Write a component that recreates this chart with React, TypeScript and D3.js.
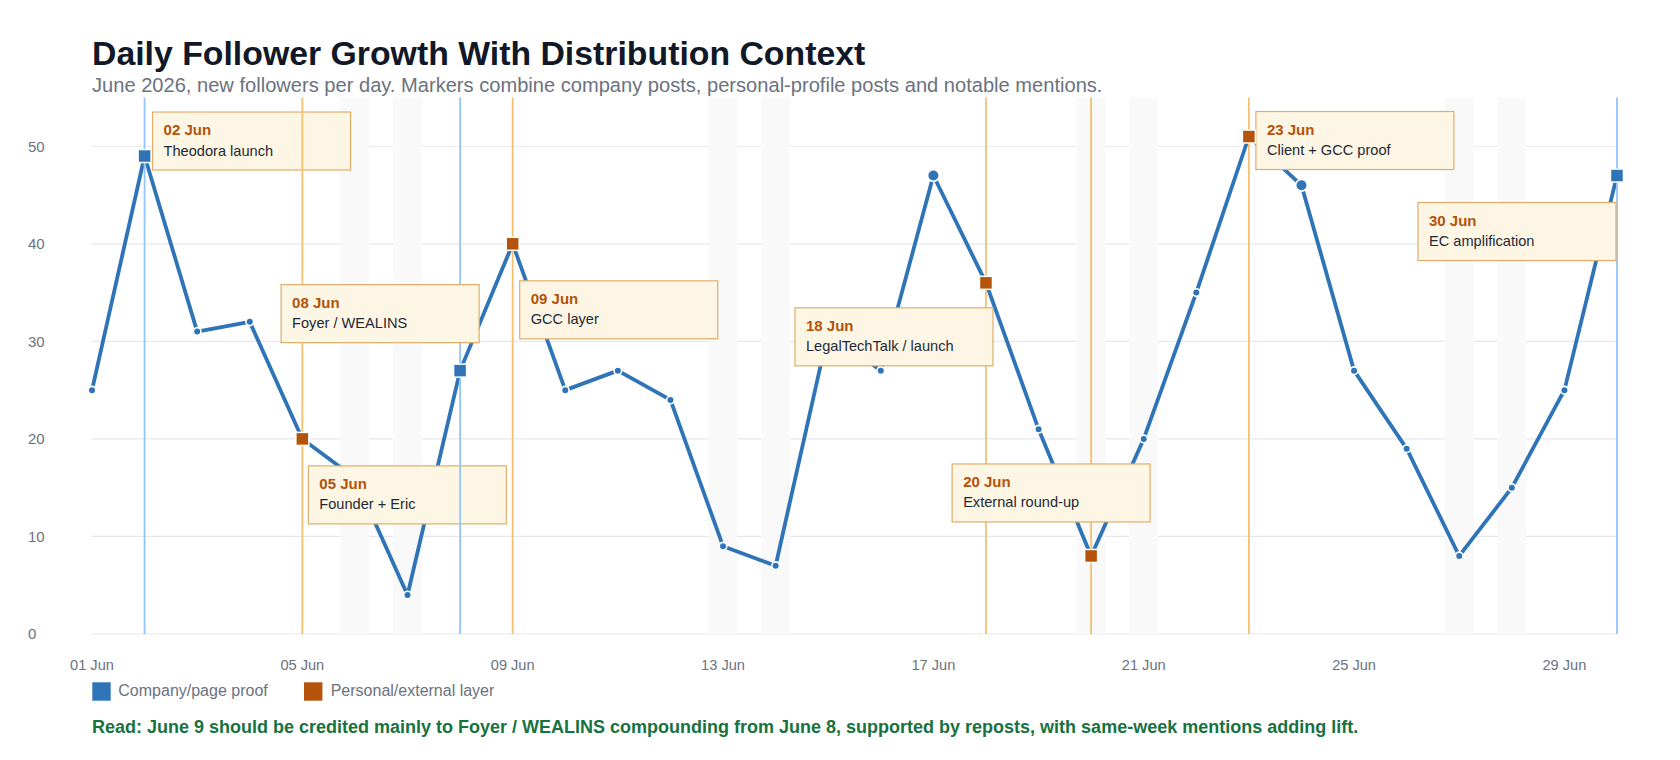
import * as d3 from "d3";

// June 2026, new followers per day
const days = [
  1, 2, 3, 4, 5, 6, 7, 8, 9, 10, 11, 12, 13, 14, 15, 16, 17, 18, 19, 20, 21, 22,
  23, 24, 25, 26, 27, 28, 29, 30,
];
const followers = [
  25, 49, 31, 32, 20, 16, 4, 27, 40, 25, 27, 24, 9, 7, 31, 27, 47, 36, 21, 8,
  20, 35, 51, 46, 27, 19, 8, 15, 25, 47,
];

const companyDays = [2, 8, 30];
const personalDays = [5, 9, 18, 20, 23];
const highlightDays = [17, 24];
const weekendDays = [6, 7, 13, 14, 20, 21, 27, 28];

const xTickDays = [1, 5, 9, 13, 17, 21, 25, 29];
const xTickLabels = ["01 Jun", "05 Jun", "09 Jun", "13 Jun", "17 Jun", "21 Jun", "25 Jun", "29 Jun"];
const yTicks = [0, 10, 20, 30, 40, 50];

const annDays = [2, 5, 8, 9, 18, 20, 23, 30];
const annTitles = ["02 Jun", "05 Jun", "08 Jun", "09 Jun", "18 Jun", "20 Jun", "23 Jun", "30 Jun"];
const annLabels = [
  "Theodora launch",
  "Founder + Eric",
  "Foyer / WEALINS",
  "GCC layer",
  "LegalTechTalk / launch",
  "External round-up",
  "Client + GCC proof",
  "EC amplification",
];

// box placement relative to the marker (layout only)
const annOffsets: [number, number][] = [
  [8, -44],
  [6, 27],
  [-179, -86],
  [7, 37],
  [-191, 25],
  [-139, -92],
  [7, -25],
  [-199, 27],
];

const BLUE = "#2e74b7";
const ORANGE = "#b45309";
const BLUE_LINE = "#93c5fd";
const ORANGE_LINE = "#f4c172";
const FONT = "'Liberation Sans', Arial, sans-serif";

export default function App() {
  const width = 1680;
  const height = 760;
  const left = 92;
  const right = 1617;
  const top = 97.5;
  const bottom = 634;

  const x = d3.scaleLinear().domain([1, 30]).range([left, right]);
  const y = d3.scaleLinear().domain([0, 55]).range([bottom, top]);
  const step = x(2) - x(1);

  const points = days.map((d, i) => ({ day: d, value: followers[i] }));
  const valueOf = (d: number) => followers[days.indexOf(d)];

  const line = d3
    .line<{ day: number; value: number }>()
    .x((d) => x(d.day))
    .y((d) => y(d.value));

  const isMarked = (d: number) =>
    companyDays.includes(d) || personalDays.includes(d);

  const boxW = 198;
  const boxH = 58;
  const sq = 13;

  return (
    <div style={{ position: "absolute", left: 0, top: 0 }}>
      <svg width={width} height={height} style={{ display: "block", fontFamily: FONT }}>
        <rect width={width} height={height} fill="#ffffff" />

        {/* gridlines */}
        {yTicks.map((t) => (
          <line
            key={"g" + t}
            x1={left}
            x2={right}
            y1={y(t)}
            y2={y(t)}
            stroke="#e5e7eb"
            strokeWidth={1.2}
          />
        ))}

        {/* weekend bands */}
        {weekendDays.map((d) => (
          <rect
            key={"w" + d}
            x={x(d) - step * 0.275}
            y={top}
            width={step * 0.55}
            height={bottom - top}
            fill="#f9f9f9"
          />
        ))}

        {/* y labels */}
        {yTicks.map((t) => (
          <text
            key={"yl" + t}
            x={28}
            y={y(t)}
            dy="0.35em"
            fontSize={15}
            fill="#6b7280"
          >
            {t}
          </text>
        ))}

        {/* x labels */}
        {xTickDays.map((d, i) => (
          <text
            key={"xl" + d}
            x={x(d)}
            y={670}
            textAnchor="middle"
            fontSize={14.6}
            fill="#6b7280"
          >
            {xTickLabels[i]}
          </text>
        ))}

        {/* series line */}
        <path d={line(points) || ""} fill="none" stroke={BLUE} strokeWidth={3.8} strokeLinejoin="round" />

        {/* dots */}
        {points
          .filter((p) => !isMarked(p.day))
          .map((p) => (
            <circle
              key={"c" + p.day}
              cx={x(p.day)}
              cy={y(p.value)}
              r={highlightDays.includes(p.day) ? 5.8 : 3.8}
              fill={BLUE}
              stroke="#ffffff"
              strokeWidth={1.6}
            />
          ))}

        {/* event lines + annotation boxes */}
        {annDays.map((d, i) => {
          const px = x(d);
          const py = y(valueOf(d));
          const bx = px + annOffsets[i][0];
          const by = py + annOffsets[i][1];
          const col = companyDays.includes(d) ? BLUE_LINE : ORANGE_LINE;
          return (
            <g key={"a" + d}>
              <line x1={px} x2={px} y1={top} y2={bottom} stroke={col} strokeWidth={1.8} />
              <rect
                x={bx}
                y={by}
                width={boxW}
                height={boxH}
                fill="#fdf6e4"
                stroke="#deae6a"
                strokeWidth={1.2}
              />
              <text x={bx + 11} y={by + 23} fontSize={15} fontWeight="bold" fill={ORANGE}>
                {annTitles[i]}
              </text>
              <text x={bx + 11} y={by + 43.5} fontSize={14.6} fill="#1f2937">
                {annLabels[i]}
              </text>
            </g>
          );
        })}

        {/* squares */}
        {points
          .filter((p) => isMarked(p.day))
          .map((p) => (
            <rect
              key={"s" + p.day}
              x={x(p.day) - sq / 2}
              y={y(p.value) - sq / 2}
              width={sq}
              height={sq}
              fill={companyDays.includes(p.day) ? BLUE : ORANGE}
              stroke="#ffffff"
              strokeWidth={1.5}
            />
          ))}

        {/* title */}
        <text x={92} y={65} fontSize={33.8} fontWeight="bold" fill="#111827">
          Daily Follower Growth With Distribution Context
        </text>
        <text x={92} y={92} fontSize={20.1} fill="#6b7280">
          June 2026, new followers per day. Markers combine company posts, personal-profile posts and notable mentions.
        </text>

        {/* legend */}
        <rect x={92.3} y={682.3} width={18.4} height={18.4} fill={BLUE} />
        <text x={118.3} y={695.5} fontSize={16} fill="#6b7280">
          Company/page proof
        </text>
        <rect x={304} y={682.3} width={18.4} height={18.4} fill={ORANGE} />
        <text x={330.7} y={695.5} fontSize={16} fill="#6b7280">
          Personal/external layer
        </text>

        {/* footer */}
        <text x={92} y={733.3} fontSize={18} fontWeight="bold" fill="#17723f">
          Read: June 9 should be credited mainly to Foyer / WEALINS compounding from June 8, supported by reposts, with same-week mentions adding lift.
        </text>
      </svg>
    </div>
  );
}
